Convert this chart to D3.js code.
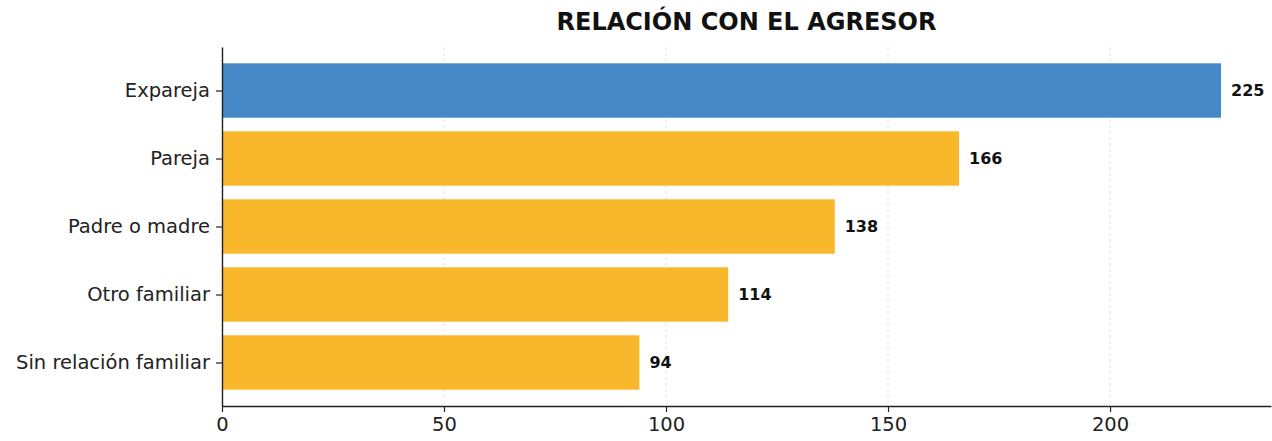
<!DOCTYPE html>
<html lang="es">
<head>
<meta charset="UTF-8">
<script src="https://cdn.jsdelivr.net/npm/d3@7"></script>
<title>Relación con el agresor</title>
<style>
    body { margin: 0; background: #fff; }
    text { font-family: "DejaVu Sans", sans-serif; }
</style>
</head>
<body>
<div id="viz"></div>
<script>
    // data
    const categories = ["Expareja", "Pareja", "Padre o madre", "Otro familiar", "Sin relación familiar"]
    const values = [225, 166, 138, 114, 94]
    const xTicks = [0, 50, 100, 150, 200]

    const width = 1272
    const height = 441
    const margin = {top: 47, left: 222, right: 1, bottom: 35}

    const blue = "#4788c7"
    const orange = "#f9b72c"

    const svg = d3.select("#viz")
        .append("svg")
        .attr("width", width)
        .attr("height", height)

    const xScale = d3.scaleLinear()
        .domain([0, d3.max(values) * 1.05])
        .range([margin.left, width - margin.right])

    // matplotlib style: category positions with 0.4 half-height + 5% margin
    const n = categories.length
    const pos = d3.scaleLinear()
        .domain([-0.64, n - 1 + 0.64])
        .range([margin.top, height - margin.bottom])

    // dashed grid
    svg.append("g")
        .selectAll("line")
        .data(xTicks)
        .enter()
        .append("line")
        .attr("x1", d => xScale(d))
        .attr("x2", d => xScale(d))
        .attr("y1", margin.top)
        .attr("y2", height - margin.bottom)
        .attr("stroke", "#dedede")
        .attr("stroke-width", 0.8)
        .attr("stroke-dasharray", "3,3")

    // bars
    svg.selectAll(".bar")
        .data(values)
        .enter()
        .append("rect")
        .attr("class", "bar")
        .attr("x", xScale(0))
        .attr("y", (d, i) => pos(i - 0.4))
        .attr("width", d => xScale(d) - xScale(0))
        .attr("height", (d, i) => pos(i + 0.4) - pos(i - 0.4))
        .attr("fill", (d, i) => i === 0 ? blue : orange)

    // value labels
    svg.selectAll(".val")
        .data(values)
        .enter()
        .append("text")
        .attr("class", "val")
        .attr("x", d => xScale(d) + 10)
        .attr("y", (d, i) => pos(i))
        .attr("dy", "0.35em")
        .attr("font-size", 16)
        .attr("font-weight", "bold")
        .attr("fill", "#111")
        .text(d => d)

    // x axis
    const xAxis = svg.append("g")
        .attr("transform", `translate(0,${height - margin.bottom})`)
        .call(d3.axisBottom(xScale).tickValues(xTicks).tickSize(6).tickPadding(5).tickSizeOuter(0))
    xAxis.selectAll("text").attr("font-size", 19.5).attr("fill", "#222").style("font-family", "DejaVu Sans")
    xAxis.selectAll("line").attr("stroke", "#222").attr("stroke-width", 1.2)
    xAxis.select(".domain").attr("stroke", "#222").attr("stroke-width", 1.4)

    // y axis
    const yAxis = svg.append("g")
        .attr("transform", `translate(${margin.left},0)`)
        .call(d3.axisLeft(pos).tickValues(d3.range(n)).tickFormat(i => categories[i]).tickSize(6).tickPadding(6).tickSizeOuter(0))
    yAxis.selectAll("text").attr("font-size", 19.5).attr("fill", "#222").style("font-family", "DejaVu Sans")
    yAxis.selectAll("line").attr("stroke", "#222").attr("stroke-width", 1.2)
    yAxis.select(".domain").attr("stroke", "#222").attr("stroke-width", 1.4)

    // title
    svg.append("text")
        .attr("x", (margin.left + width - margin.right) / 2)
        .attr("y", 30)
        .attr("text-anchor", "middle")
        .attr("font-size", 24)
        .attr("font-weight", "bold")
        .attr("fill", "#111")
        .text("RELACIÓN CON EL AGRESOR")
</script>
</body>
</html>
